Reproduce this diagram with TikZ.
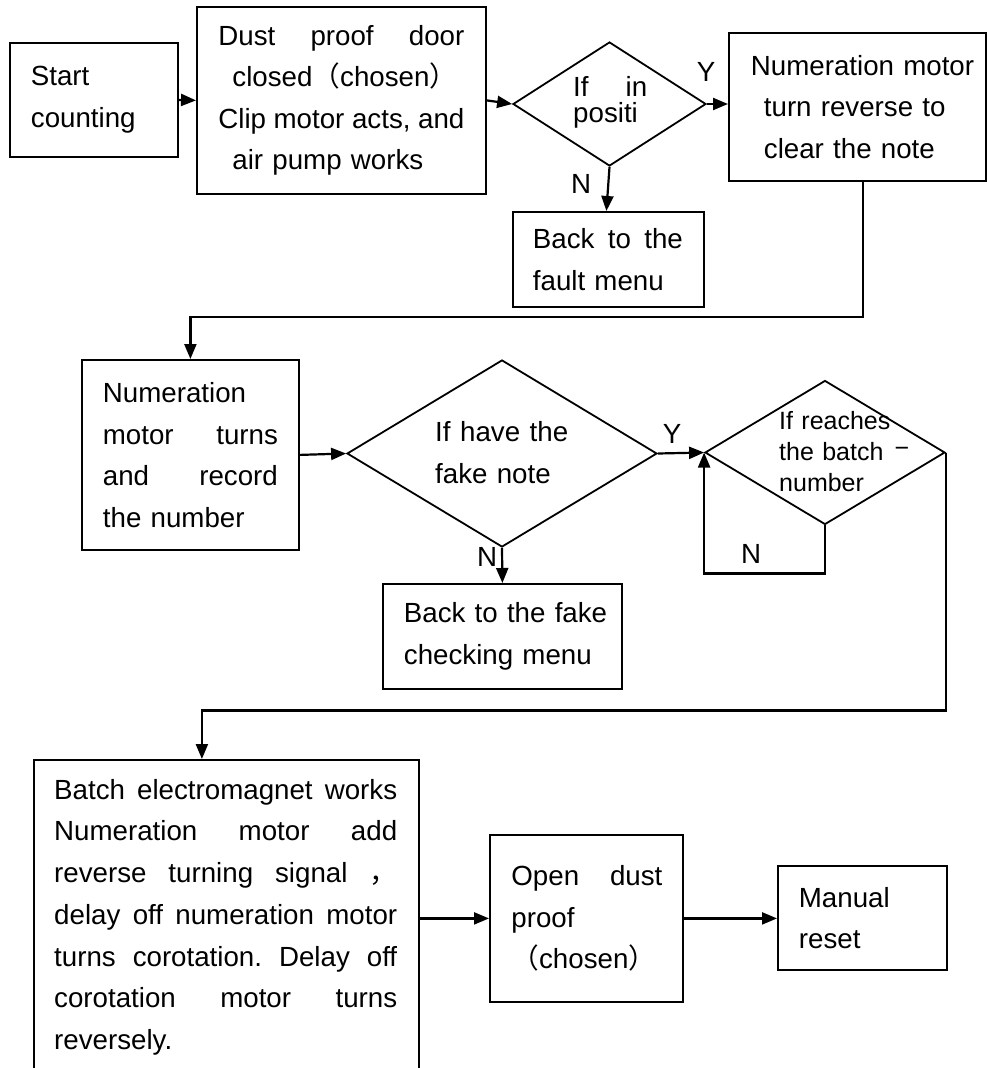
\documentclass[tikz,border=0pt]{standalone}
\usepackage{fontspec}
\setmainfont{Liberation Sans}
\newfontfamily\cjk{Noto Sans CJK SC}
\usetikzlibrary{shapes.geometric,arrows.meta}
\newcommand\jl[2]{\leavevmode\hbox to #1pt{#2}}
\begin{document}
\frenchspacing
\begin{tikzpicture}[x=1pt,y=-1pt,
  box/.style={draw, line width=1.8pt, rectangle, align=left, anchor=north west,
    font=\fontsize{27.7}{41.5}\selectfont},
  dia/.style={draw, line width=1.8pt, diamond, inner sep=0pt},
  dtext/.style={inner sep=0pt, anchor=west, align=left},
  conn/.style={line width=2.2pt, -{Triangle[length=15pt,width=12pt]}},
  lbl/.style={font=\fontsize{27.7}{30}\selectfont, inner sep=0pt}]
\clip (0,0) rectangle (987,1068);

% boxes
\node[box, minimum width=168pt, minimum height=114pt, text width=126pt, inner xsep=21pt] (start) at (9,42)
  {\mbox{Start}\\\mbox{counting}};
\node[box, minimum width=289pt, minimum height=187pt, text width=246pt, inner xsep=21.5pt] (box2) at (196,6)
  {\jl{246}{Dust\hfill proof\hfill door}\\\mbox{\hspace*{14pt}closed{\cjk （}chosen{\cjk ）}}\\\jl{246}{Clip\hfill motor\hfill acts,\hfill and}\\\mbox{\hspace*{14pt}air pump works}};
\node[dia, minimum width=193pt, minimum height=124pt] (d1) at (609.5,104) {};
\node[dtext, text width=74pt, font=\fontsize{27.7}{26}\selectfont] (t1) at (573,102) {\jl{74}{If\hfill in}\\\mbox{positi}};
\node[box, minimum width=257pt, minimum height=148pt, text width=213pt, inner xsep=22pt] (num1) at (728,32)
  {\mbox{Numeration motor}\\\mbox{\hspace*{13pt}turn reverse to}\\\mbox{\hspace*{13pt}clear the note}};
\node[box, minimum width=191pt, minimum height=95pt, text width=151pt, inner xsep=20pt] (fault) at (512,211)
  {\jl{150}{Back\hfill to\hfill the}\\\mbox{fault menu}};

\node[box, minimum width=217pt, minimum height=190pt, text width=175pt, inner xsep=21pt] (num2) at (81,359)
  {\mbox{Numeration}\\\jl{175}{motor\hfill turns}\\\jl{175}{and\hfill record}\\\mbox{the number}};
\node[dia, minimum width=310pt, minimum height=187pt] (d2) at (502,453.5) {};
\node[dtext, text width=134pt, font=\fontsize{27.7}{42}\selectfont] (t2) at (435,453) {\jl{133}{If\hfill have\hfill the}\\\mbox{fake note}};
\node[dia, minimum width=240pt, minimum height=144pt] (d3) at (825,452.5) {};
\node[dtext, text width=112pt, font=\fontsize{25}{31}\selectfont] (t3) at (779,451.5) {\mbox{If reaches}\\\mbox{the batch}\\\mbox{number}};
\node[lbl, font=\fontsize{25}{30}\selectfont] (dash) at (902,452) {−};
\node[box, minimum width=239pt, minimum height=105pt, text width=197pt, inner xsep=21pt] (fake) at (382,583)
  {\mbox{Back to the fake}\\\mbox{checking menu}};

\node[draw, line width=1.8pt, minimum width=385pt, minimum height=340pt, anchor=north west, inner sep=0pt] (big) at (33,759) {};
\node[inner sep=0pt, anchor=north west, text width=343pt, align=left, font=\fontsize{27.7}{41.7}\selectfont] (bigtext) at (54,779)
  {\jl{343}{Batch\hfill electromagnet\hfill works}\\
   \jl{343}{Numeration\hfill motor\hfill add}\\
   \jl{343}{reverse\hfill turning\hfill signal\hfill{\cjk ，}}\\
   \jl{343}{delay\hfill off\hfill numeration\hfill motor}\\
   \jl{343}{turns\hfill corotation.\hfill Delay\hfill off}\\
   \jl{343}{corotation\hfill motor\hfill turns}\\
   \mbox{reversely.}};
\node[box, minimum width=193pt, minimum height=167pt, text width=150pt, inner xsep=21.5pt] (open) at (489,834)
  {\jl{151}{Open\hfill dust}\\\mbox{proof}\\\mbox{{\cjk （}chosen{\cjk ）}}};
\node[box, minimum width=169pt, minimum height=104pt, text width=127pt, inner xsep=21pt] (manual) at (777,865)
  {\mbox{Manual}\\\mbox{reset}};

% labels
\node[lbl] (y1) at (706,72) {Y};
\node[lbl] (n1) at (581,184) {N};
\node[lbl] (y2) at (672,434) {Y};
\node[lbl] (n2) at (487,557) {N};
\node[lbl] (n3) at (751,554) {N};

% connectors
\draw[conn] (start.east) -- (box2.west);
\draw[conn] (box2.east) -- (d1.west);
\draw[conn] (d1.east) -- (d1.east -| num1.west);
\draw[conn] (d1.south) -- ([xshift=-2pt]fault.north);
\draw[conn] ([xshift=5.5pt]num1.south) -- ++(0,135) -| (num2.north);
\draw[conn] (num2.east) -- (d2.west);
\draw[conn] (d2.east) -- (d3.west);
\draw[conn] (d2.south) -- (fake.north);
\draw[conn] (d3.south) -- ++(0,48) -| (d3.west);
\draw[conn] (d3.east) -- ++(0,258) -| ([xshift=-24.5pt]big.north);
\draw[conn] (big.east |- open.west) -- (open.west);
\draw[conn] (open.east) -- (open.east -| manual.west);
\end{tikzpicture}
\end{document}
